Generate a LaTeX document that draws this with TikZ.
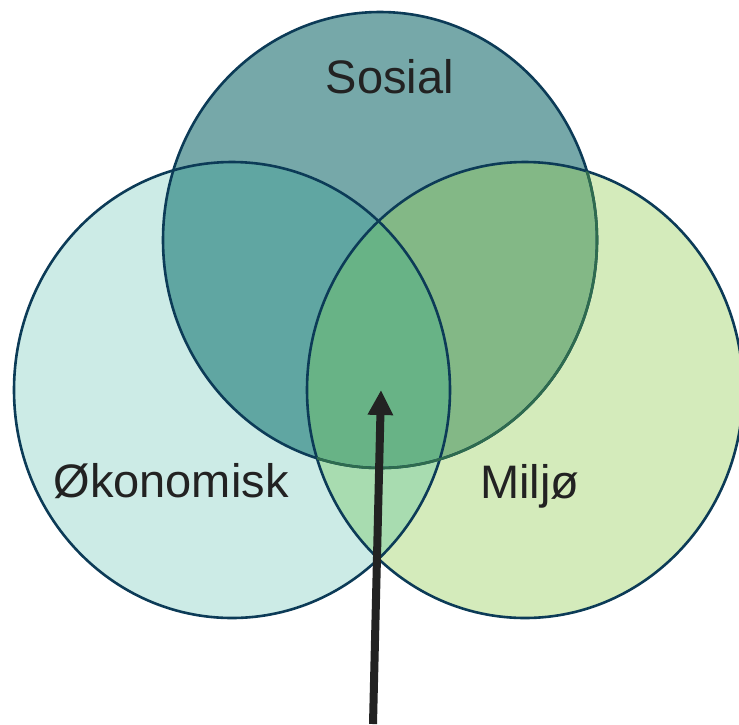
\documentclass[tikz,border=0pt]{standalone}
\usepackage{fontspec}
\setmainfont{Liberation Sans}
\usetikzlibrary{arrows.meta}
\definecolor{okofill}{HTML}{CCEBE6}
\definecolor{sosfill}{HTML}{76A8A9}
\definecolor{milfill}{HTML}{D4EBBB}
\definecolor{okosos}{HTML}{60A6A2}
\definecolor{sosmil}{HTML}{83B886}
\definecolor{okomil}{HTML}{A8DCB0}
\definecolor{allfill}{HTML}{68B386}
\definecolor{rim}{HTML}{0C3B57}
\definecolor{rimgreen}{HTML}{2E6B4E}
\definecolor{pointer}{HTML}{222222}
\def\oko{(232,390) ellipse [x radius=218, y radius=228]}
\def\sos{(380,240) ellipse [x radius=217, y radius=228]}
\def\mil{(525,390) ellipse [x radius=218, y radius=228]}
\begin{document}
\begin{tikzpicture}[x=1pt, y=-1pt,
    rimline/.style={draw=rim, line width=2.6pt},
    word/.style={anchor=base, text=pointer, font=\fontsize{47}{56}\selectfont}]
    \useasboundingbox (0,0) rectangle (739,724);

    \fill[okofill] \oko;
    \fill[sosfill] \sos;
    \fill[milfill] \mil;
    \begin{scope} \clip \oko; \fill[okosos] \sos; \end{scope}
    \begin{scope} \clip \sos; \fill[sosmil] \mil; \end{scope}
    \begin{scope} \clip \oko; \fill[okomil] \mil; \end{scope}
    \begin{scope} \clip \oko; \clip \sos; \fill[allfill] \mil; \end{scope}

    \draw[rimline] \oko;
    \draw[rimline] \sos;
    \draw[rimline] \mil;
    \begin{scope} \clip \mil; \draw[rimline, draw=rimgreen] \sos; \end{scope}

    \node[word] (sosial) at (390,93) {Sosial};
    \node[word] (okonomisk) at (171,497) {Økonomisk};
    \node[word] (miljo) at (530,498) {Miljø};

    \coordinate (foot) at (373,724);
    \coordinate (tip) at (381,390);
    \draw[pointer, line width=8pt, -{Triangle[length=25pt, width=24pt]}] (foot) -- (tip);
  \end{tikzpicture}
\end{document}
